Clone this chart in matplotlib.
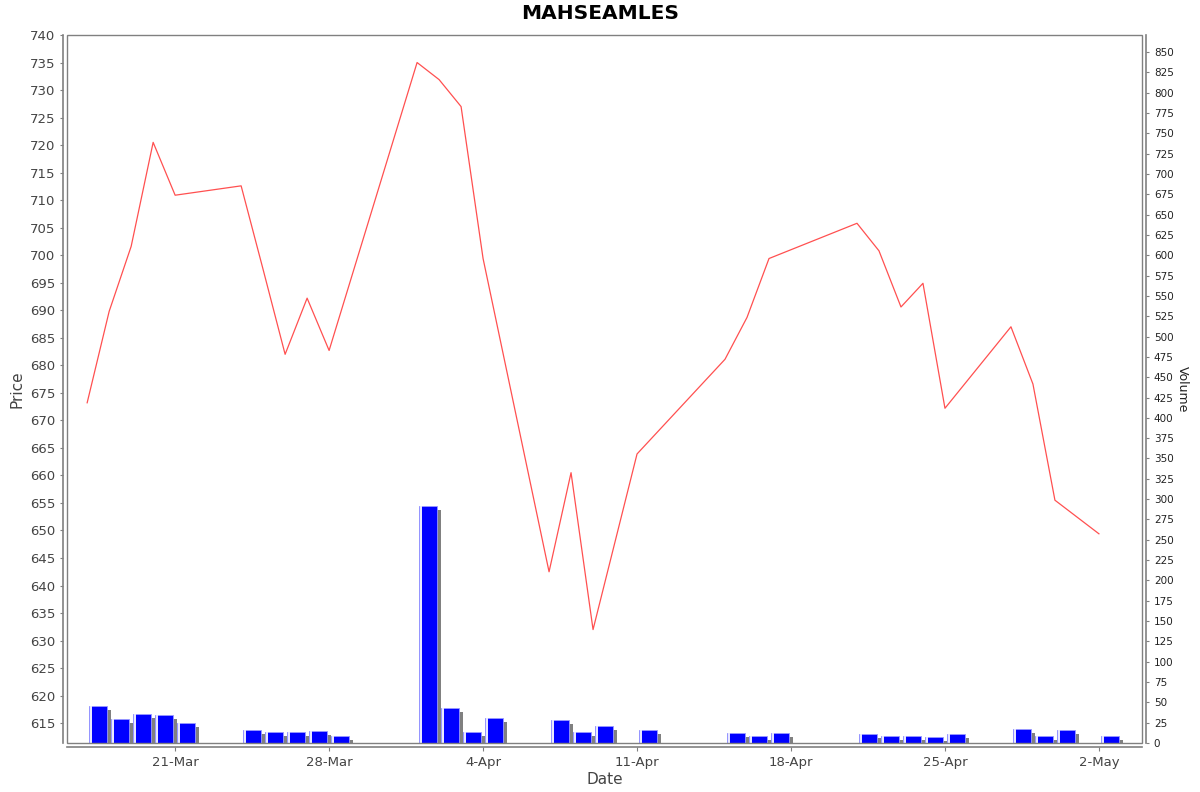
import datetime as dt
import matplotlib
matplotlib.use('Agg')
import matplotlib.pyplot as plt
import matplotlib.transforms as mtransforms
from matplotlib.patches import Rectangle

plt.rcParams['font.family'] = 'DejaVu Sans'

# trading days shown on the chart
dates = ['2025-03-17', '2025-03-18', '2025-03-19', '2025-03-20', '2025-03-21',
         '2025-03-24', '2025-03-25', '2025-03-26', '2025-03-27', '2025-03-28',
         '2025-04-01', '2025-04-02', '2025-04-03', '2025-04-04',
         '2025-04-07', '2025-04-08', '2025-04-09', '2025-04-11',
         '2025-04-15', '2025-04-16', '2025-04-17',
         '2025-04-21', '2025-04-22', '2025-04-23', '2025-04-24', '2025-04-25',
         '2025-04-28', '2025-04-29', '2025-04-30', '2025-05-02']
price = [673.2, 689.8, 701.6, 720.5, 710.9,
         712.6, 697.4, 682.0, 692.2, 682.7,
         735.0, 731.9, 727.0, 699.4,
         642.5, 660.5, 632.0, 663.9,
         681.1, 688.7, 699.4,
         705.8, 700.8, 690.6, 694.9, 672.2,
         687.0, 676.6, 655.5, 649.4]
volume = [45, 29, 36, 34, 24,
          16, 14, 13, 15, 8,
          291, 43, 13, 31,
          28, 13, 21, 16,
          12, 9, 12,
          11, 9, 9, 7, 11,
          17, 9, 16, 9]

price_ticks = list(range(615, 741, 5))
volume_ticks = list(range(0, 851, 25))

days = [dt.datetime.strptime(d, '%Y-%m-%d') for d in dates]
bar_left = [d + dt.timedelta(hours=2.4) for d in days]

fig = plt.figure(figsize=(12, 7.92), dpi=100)
ax = fig.add_axes([67 / 1200, 49 / 792, 1075 / 1200, 708 / 792])
ax2 = ax.twinx()

grey = '#808080'
txt = '#444444'

# volume bars with drop shadow
shadow = mtransforms.offset_copy(ax2.transData, fig=fig, x=4, y=-4, units='dots')
ax2.bar(bar_left, volume, width=0.82, align='edge', color='#808080',
        linewidth=0, transform=shadow, zorder=1)
ax2.bar(bar_left, volume, width=0.82, align='edge', color='#0000ff',
        edgecolor='#9a9aff', linewidth=0.6, zorder=2)
strip = [d + dt.timedelta(hours=3.6) for d in days]
ax2.bar(strip, volume, width=0.06, align='edge', color='#e8e8ff',
        linewidth=0, zorder=3)

ax.plot(days, price, color='#ff5050', linewidth=0.9, zorder=5)
ax.set_zorder(ax2.get_zorder() + 1)
ax.patch.set_visible(False)

ax.set_xlim(dt.datetime(2025, 3, 16, 2), dt.datetime(2025, 5, 3, 23))
ax.set_ylim(611.4, 740)
ax2.set_ylim(0, 871)
ax.set_yticks(price_ticks)
ax2.set_yticks(volume_ticks)

ticks = [dt.datetime(2025, 3, 21) + dt.timedelta(days=7 * i) for i in range(7)]
ax.set_xticks(ticks)
ax.set_xticklabels([f"{t.day}-{t.strftime('%b')}" for t in ticks])

for a in (ax, ax2):
    for s in a.spines.values():
        s.set_visible(False)
ax.spines['left'].set_visible(True)
ax.spines['bottom'].set_visible(True)
ax2.spines['right'].set_visible(True)
ax.spines['left'].set_position(('outward', 3))
ax.spines['bottom'].set_position(('outward', 3))
ax2.spines['right'].set_position(('outward', 3))
for s in (ax.spines['left'], ax.spines['bottom'], ax2.spines['right']):
    s.set_color(grey)
    s.set_linewidth(1.2)

ax.add_patch(Rectangle((0, 0), 1, 1, transform=ax.transAxes, fill=False,
                       edgecolor=grey, linewidth=1.0, clip_on=False, zorder=10))

ax.tick_params(axis='y', labelsize=9.5, colors=grey, labelcolor=txt, length=2)
ax.tick_params(axis='x', labelsize=9.5, colors=grey, labelcolor=txt, length=3)
ax2.tick_params(axis='y', labelsize=7.5, colors=grey, labelcolor='#222222', length=2)

ax.set_xlabel('Date', fontsize=11, color=txt, labelpad=2)
ax.set_ylabel('Price', fontsize=11, color=txt, labelpad=4)
ax2.set_ylabel('Volume', fontsize=9, color='#222222', rotation=270, labelpad=11)
fig.text(0.5, 0.983, 'MAHSEAMLES', ha='center', va='center',
         fontsize=14.5, fontweight='bold', color='black')

fig.savefig('out.png', dpi=100)
